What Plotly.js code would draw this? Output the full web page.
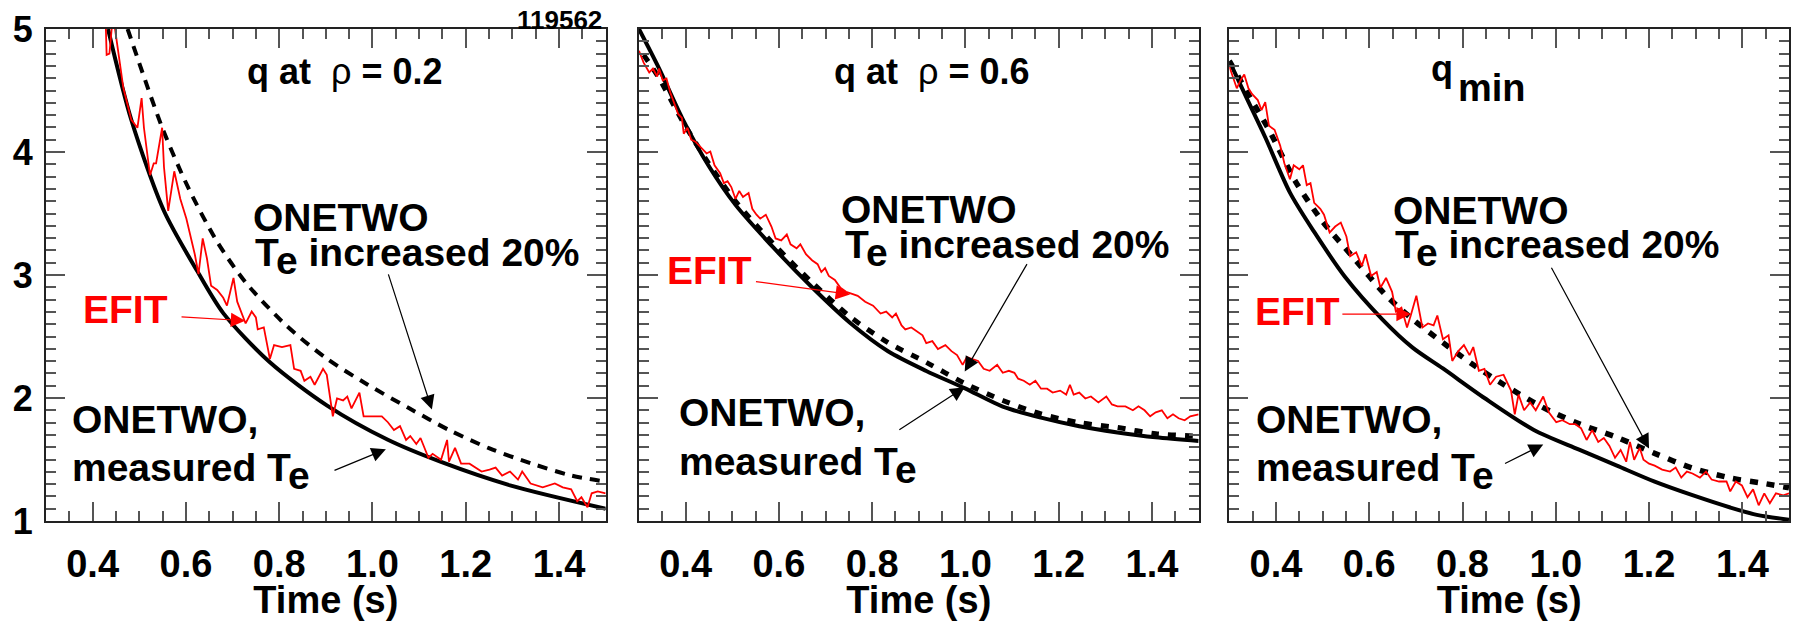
<!DOCTYPE html>
<html><head><meta charset="utf-8">
<script src="https://cdn.plot.ly/plotly-3.0.1.min.js"></script>
<style>html,body{margin:0;padding:0;background:#fff;} #chart{width:1795px;height:621px;}</style>
</head><body><div id="chart"></div>
<script>
// ---------- Panel 1: q at rho = 0.2 ----------
const p1_time_measured = [0.433,0.483,0.553,0.623,0.680,0.780,0.902,1.033,1.147,1.295,1.500];
const p1_q_measured    = [5.00,4.26,3.52,3.04,2.69,2.29,1.94,1.66,1.48,1.29,1.10];
const p1_time_te20 = [0.475,0.549,0.605,0.667,0.728,0.815,0.902,0.989,1.077,1.164,1.251,1.339,1.426,1.500];
const p1_q_te20    = [5.00,4.20,3.71,3.27,2.94,2.59,2.32,2.11,1.92,1.74,1.59,1.47,1.37,1.32];
const p1_time_efit = [0.428,0.430,0.436,0.442,0.448,0.457,0.466,0.483,0.496,0.505,0.510,0.523,0.531,0.536,0.549,0.553,0.562,0.575,0.588,0.601,0.619,0.627,0.636,0.645,0.654,0.667,0.680,0.688,0.702,0.710,0.723,0.728,0.741,0.750,0.754,0.767,0.776,0.780,0.789,0.806,0.824,0.832,0.846,0.854,0.867,0.876,0.894,0.902,0.915,0.924,0.937,0.946,0.955,0.972,0.981,0.998,1.020,1.033,1.046,1.059,1.072,1.081,1.094,1.103,1.120,1.129,1.147,1.160,1.164,1.177,1.190,1.208,1.234,1.251,1.264,1.278,1.295,1.312,1.321,1.339,1.365,1.391,1.408,1.426,1.439,1.448,1.461,1.470,1.483,1.500];
const p1_q_efit    = [5.05,4.79,4.80,5.05,5.00,4.743,4.518,4.261,4.197,4.438,4.197,3.811,3.908,3.908,4.197,3.876,3.522,3.843,3.618,3.458,3.169,3.008,3.297,3.136,2.912,2.879,2.815,2.751,2.976,2.783,2.655,2.606,2.703,2.655,2.558,2.574,2.398,2.317,2.430,2.414,2.430,2.237,2.221,2.140,2.173,2.108,2.237,2.189,1.851,1.996,1.980,2.012,1.916,2.044,1.851,1.851,1.851,1.803,1.739,1.771,1.659,1.691,1.626,1.675,1.514,1.546,1.498,1.659,1.482,1.594,1.466,1.466,1.402,1.418,1.434,1.369,1.402,1.337,1.402,1.305,1.273,1.305,1.273,1.257,1.161,1.193,1.112,1.225,1.241,1.225];

// ---------- Panel 2: q at rho = 0.6 ----------
const p2_time_measured = [0.300,0.343,0.392,0.449,0.507,0.589,0.671,0.753,0.834,0.916,0.998,1.080,1.162,1.244,1.326,1.408,1.500];
const p2_q_measured    = [5.00,4.68,4.28,3.89,3.57,3.22,2.90,2.61,2.38,2.22,2.08,1.93,1.84,1.77,1.72,1.68,1.65];
const p2_time_te20 = [0.310,0.343,0.392,0.449,0.507,0.589,0.671,0.753,0.834,0.916,0.998,1.080,1.162,1.244,1.326,1.408,1.500];
const p2_q_te20    = [4.79,4.60,4.26,3.91,3.60,3.25,2.94,2.66,2.45,2.29,2.12,1.98,1.87,1.80,1.76,1.71,1.69];
const p2_time_efit = [0.300,0.310,0.322,0.330,0.339,0.343,0.351,0.359,0.367,0.375,0.384,0.392,0.396,0.404,0.412,0.421,0.433,0.445,0.453,0.462,0.474,0.482,0.490,0.498,0.507,0.515,0.523,0.535,0.543,0.552,0.560,0.572,0.584,0.593,0.605,0.617,0.625,0.638,0.646,0.658,0.671,0.683,0.691,0.699,0.707,0.720,0.732,0.744,0.757,0.769,0.785,0.802,0.818,0.830,0.843,0.851,0.863,0.871,0.884,0.896,0.908,0.916,0.929,0.941,0.957,0.970,0.982,0.994,1.003,1.015,1.027,1.039,1.052,1.068,1.080,1.093,1.105,1.113,1.125,1.138,1.150,1.162,1.175,1.187,1.203,1.216,1.224,1.232,1.244,1.257,1.269,1.285,1.302,1.314,1.326,1.343,1.359,1.371,1.384,1.396,1.408,1.421,1.433,1.445,1.457,1.470,1.482,1.500];
const p2_q_efit    = [4.823,4.727,4.647,4.679,4.614,4.679,4.582,4.598,4.486,4.406,4.309,4.277,4.149,4.197,4.100,4.084,4.036,3.988,4.004,3.892,3.827,3.747,3.763,3.715,3.618,3.683,3.634,3.667,3.538,3.490,3.458,3.490,3.394,3.297,3.281,3.329,3.249,3.217,3.249,3.169,3.120,3.088,3.024,3.056,2.992,2.960,2.896,2.863,2.847,2.831,2.783,2.751,2.687,2.703,2.655,2.687,2.590,2.558,2.574,2.542,2.510,2.446,2.462,2.398,2.430,2.381,2.349,2.269,2.333,2.317,2.301,2.237,2.221,2.269,2.205,2.221,2.205,2.157,2.140,2.108,2.140,2.076,2.076,2.044,2.060,2.028,2.108,2.028,2.044,1.996,2.012,1.964,2.012,1.948,1.932,1.932,1.900,1.932,1.900,1.851,1.884,1.900,1.835,1.867,1.835,1.819,1.851,1.867];

// ---------- Panel 3: q_min ----------
const p3_time_measured = [0.300,0.337,0.377,0.430,0.482,0.547,0.628,0.693,0.758,0.847,0.953,1.050,1.131,1.212,1.293,1.374,1.431,1.500];
const p3_q_measured    = [4.74,4.44,4.12,3.67,3.35,2.99,2.64,2.41,2.24,2.00,1.74,1.58,1.45,1.32,1.21,1.11,1.05,1.01];
const p3_time_te20 = [0.300,0.345,0.385,0.442,0.499,0.564,0.637,0.693,0.758,0.823,0.888,0.969,1.050,1.131,1.212,1.293,1.374,1.439,1.500];
const p3_q_te20    = [4.74,4.44,4.18,3.76,3.44,3.15,2.83,2.64,2.45,2.27,2.11,1.93,1.79,1.68,1.55,1.43,1.35,1.31,1.27];
const p3_time_efit = [0.300,0.308,0.316,0.324,0.332,0.341,0.349,0.361,0.369,0.377,0.385,0.397,0.409,0.418,0.430,0.438,0.450,0.458,0.466,0.474,0.482,0.495,0.503,0.515,0.527,0.539,0.551,0.559,0.572,0.584,0.592,0.604,0.616,0.624,0.636,0.649,0.657,0.669,0.681,0.689,0.701,0.714,0.726,0.738,0.746,0.758,0.770,0.778,0.791,0.803,0.815,0.823,0.835,0.847,0.859,0.872,0.888,0.904,0.912,0.920,0.932,0.945,0.957,0.973,0.985,1.001,1.014,1.030,1.042,1.054,1.066,1.078,1.091,1.103,1.115,1.127,1.139,1.151,1.159,1.168,1.180,1.188,1.200,1.212,1.228,1.245,1.257,1.269,1.281,1.293,1.309,1.322,1.334,1.350,1.366,1.374,1.386,1.399,1.411,1.423,1.435,1.447,1.459,1.472,1.488,1.500];
const p3_q_efit    = [4.695,4.598,4.518,4.582,4.631,4.518,4.470,4.422,4.341,4.406,4.213,4.181,4.052,3.908,3.779,3.892,3.859,3.892,3.731,3.747,3.586,3.538,3.490,3.345,3.394,3.426,3.313,3.153,3.185,3.072,3.169,2.992,3.024,2.896,2.976,2.863,2.703,2.735,2.574,2.671,2.831,2.574,2.606,2.590,2.671,2.478,2.510,2.301,2.381,2.430,2.349,2.414,2.221,2.237,2.108,2.173,2.189,2.060,1.867,2.028,1.900,1.964,1.900,2.012,1.884,1.803,1.819,1.787,1.787,1.755,1.659,1.739,1.643,1.675,1.610,1.514,1.578,1.482,1.643,1.498,1.594,1.498,1.466,1.450,1.418,1.402,1.434,1.353,1.402,1.386,1.353,1.402,1.337,1.321,1.321,1.241,1.321,1.289,1.193,1.257,1.128,1.225,1.145,1.225,1.209,1.225];

// ---------- Tick labels / text ----------
const xTickVals = [0.4,0.6,0.8,1.0,1.2,1.4];
const yTickVals = [1,2,3,4,5];
const xTitle = 'Time (s)';
const panelTitles = ['q at\u00a0\u00a0<span style="font-weight:normal">ρ</span> = 0.2', 'q at\u00a0\u00a0<span style="font-weight:normal">ρ</span> = 0.6'];
const shotNumber = '119562';

const FONT = '"Liberation Sans", Arial, Helvetica, sans-serif';
const BIG = 39;

function xAxis(domain, anchor) {
  return {
    domain: domain, anchor: anchor, range: [0.3, 1.5],
    tickmode: 'array', tickvals: xTickVals, ticktext: xTickVals.map(v => v.toFixed(1)),
    ticks: 'inside', ticklen: 19, tickwidth: 2, tickcolor: '#555',
    showline: true, linecolor: '#222', linewidth: 2, mirror: 'allticks',
    showgrid: false, zeroline: false, fixedrange: true, automargin: false,
    tickfont: {family: FONT, size: 38, weight: 700, color: '#000'},
    ticklabelstandoff: 8,
    title: {text: xTitle, font: {family: FONT, size: 38, weight: 700, color: '#000'}, standoff: 6},
    minor: {ticks: 'inside', tick0: 0.3, dtick: 0.05, ticklen: 10, tickwidth: 2, tickcolor: '#555', showgrid: false}
  };
}
function yAxis(anchor, labels) {
  return {
    domain: [0, 1], anchor: anchor, range: [1, 5],
    tickmode: 'array', tickvals: yTickVals, ticktext: yTickVals.map(String),
    showticklabels: labels,
    ticks: 'inside', ticklen: 19, tickwidth: 2, tickcolor: '#555',
    showline: true, linecolor: '#222', linewidth: 2, mirror: 'allticks',
    showgrid: false, zeroline: false, fixedrange: true, automargin: false,
    tickfont: {family: FONT, size: 36, weight: 700, color: '#000'},
    ticklabelstandoff: 4,
    minor: {ticks: 'inside', tick0: 1, dtick: 0.1, ticklen: 10, tickwidth: 2, tickcolor: '#555', showgrid: false}
  };
}

function panelTraces(xa, ya, tm, qm, tt, qt, te, qe, dashW, dash) {
  return [
    {x: tm, y: qm, xaxis: xa, yaxis: ya, type: 'scatter', mode: 'lines',
     line: {color: '#000', width: 4, shape: 'spline', smoothing: 0.8}, hoverinfo: 'skip', showlegend: false},
    {x: tt, y: qt, xaxis: xa, yaxis: ya, type: 'scatter', mode: 'lines',
     line: {color: '#000', width: dashW, dash: dash, shape: 'spline', smoothing: 0.8}, hoverinfo: 'skip', showlegend: false},
    {x: te, y: qe, xaxis: xa, yaxis: ya, type: 'scatter', mode: 'lines',
     line: {color: '#ff0000', width: 1.8}, hoverinfo: 'skip', showlegend: false}
  ];
}

const data = [].concat(
  panelTraces('x', 'y', p1_time_measured, p1_q_measured, p1_time_te20, p1_q_te20, p1_time_efit, p1_q_efit, 4, '10px,8px'),
  panelTraces('x2', 'y2', p2_time_measured, p2_q_measured, p2_time_te20, p2_q_te20, p2_time_efit, p2_q_efit, 5, '8px,9px'),
  panelTraces('x3', 'y3', p3_time_measured, p3_q_measured, p3_time_te20, p3_q_te20, p3_time_efit, p3_q_efit, 5.5, '8px,9px')
);

// annotation helpers (paper coordinates of the plot area)
function txt(text, x, y, opts) {
  return Object.assign({text: text, xref: 'paper', yref: 'paper', x: x, y: y,
    xanchor: 'left', yanchor: 'middle', showarrow: false,
    font: {family: FONT, size: BIG, weight: 700, color: '#000'}}, opts || {});
}
function arrow(x, y, ax, ay, color) {
  return {text: '', xref: 'paper', yref: 'paper', x: x, y: y, ax: ax, ay: ay,
    axref: 'pixel', ayref: 'pixel', showarrow: true, arrowhead: 2, arrowsize: 2.4,
    arrowwidth: 1.2, arrowcolor: color, standoff: 0, startstandoff: 0};
}
const te = 'T<sub><span style="font-size:39px">e</span></sub>';
const red = {family: FONT, size: BIG, weight: 700, color: '#ff0000'};
const titleFont = {family: FONT, size: 36, weight: 700, color: '#000'};

const annotations = [
  // panel 1
  txt(panelTitles[0], 0.1140, 0.9138, {font: titleFont}),
  txt(shotNumber, 0.3200, 1.0193, {xanchor: 'right', font: {family: FONT, size: 26, weight: 700, color: '#000'}}),
  txt('ONETWO', 0.1178, 0.6162),
  txt(te + ' increased 20%', 0.1185, 0.5379),
  txt('EFIT', 0.0203, 0.4290, {font: red}),
  txt('ONETWO,', 0.0140, 0.2063),
  txt('measured ' + te, 0.0140, 0.1002),
  arrow(0.1143, 0.4071, -65.2, -4.0, '#ff0000'),
  arrow(0.2214, 0.2264, -44, -136.7, '#000'),
  arrow(0.1950, 0.1460, -52.9, 21.8, '#000'),
  // panel 2
  txt(panelTitles[1], 0.4510, 0.9138, {font: titleFont}),
  txt('ONETWO', 0.4552, 0.6333),
  txt(te + ' increased 20%', 0.4574, 0.5531),
  txt('EFIT', 0.3554, 0.5087, {font: red}),
  txt('ONETWO,', 0.3620, 0.2197),
  txt('measured ' + te, 0.3620, 0.1136),
  arrow(0.4613, 0.4606, -95.6, -13, '#ff0000'),
  arrow(0.5271, 0.3041, 63.1, -108.8, '#000'),
  arrow(0.5271, 0.2720, -66.9, 43.6, '#000'),
  // panel 3
  txt('q', 0.7935, 0.9189, {font: titleFont}),
  txt('min', 0.8090, 0.8807, {font: {family: FONT, size: 38, weight: 700, color: '#000'}}),
  txt('ONETWO', 0.7716, 0.6310),
  txt(te + ' increased 20%', 0.7727, 0.5531),
  txt('EFIT', 0.6924, 0.4256, {font: red}),
  txt('ONETWO,', 0.6930, 0.2059),
  txt('measured ' + te, 0.6930, 0.0996),
  arrow(0.7830, 0.4205, -69.9, 0, '#ff0000'),
  arrow(0.9197, 0.1475, -98.4, -182.1, '#000'),
  arrow(0.8590, 0.1556, -39.7, 19.8, '#000')
];

const layout = {
  width: 1795, height: 621,
  margin: {l: 46, r: 6, t: 28.5, b: 99.5, pad: 0},
  paper_bgcolor: '#fff', plot_bgcolor: '#fff',
  showlegend: false,
  font: {family: FONT, color: '#000'},
  xaxis: xAxis([0, 0.3211], 'y'),
  xaxis2: xAxis([0.3402, 0.6613], 'y2'),
  xaxis3: xAxis([0.6789, 1.0], 'y3'),
  yaxis: yAxis('x', true),
  yaxis2: yAxis('x2', false),
  yaxis3: yAxis('x3', false),
  annotations: annotations
};

Plotly.newPlot('chart', data, layout, {staticPlot: true, displayModeBar: false});
</script>
</body></html>
